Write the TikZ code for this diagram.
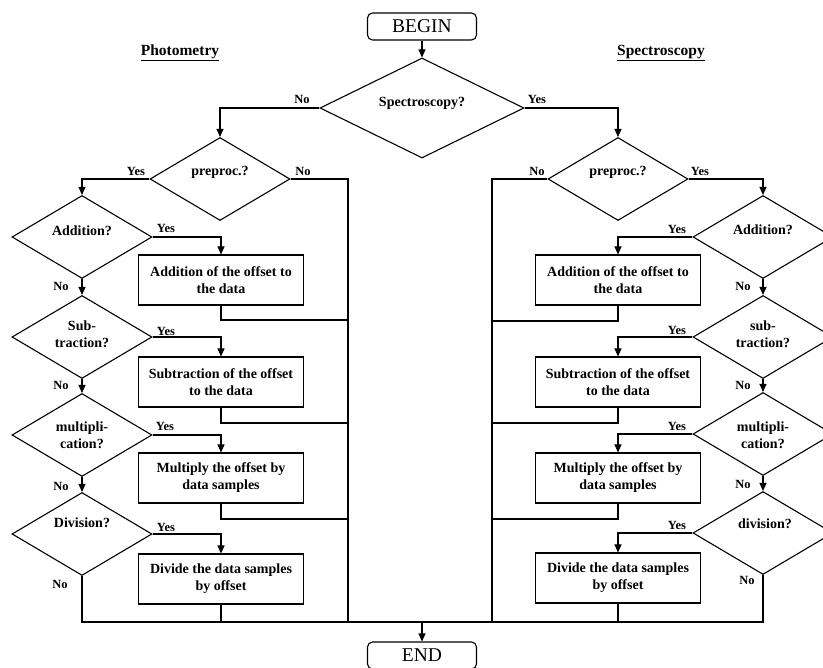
\documentclass[tikz,border=0pt]{standalone}
\usepackage{fontspec}
\setmainfont{Liberation Serif}
\usetikzlibrary{shapes.geometric,arrows.meta}

\begin{document}
\begin{tikzpicture}[x=1pt,y=-1pt,line width=1.1pt,
  arr/.style={-{Triangle[length=8pt,width=7pt]}},
  dia/.style={diamond, draw, inner sep=0pt, minimum width=140pt, minimum height=83pt},
  bigdia/.style={dia, minimum width=204pt, minimum height=100pt},
  proc/.style={rectangle, draw, minimum width=165pt, minimum height=50pt, inner sep=0pt,
    align=center, font=\fontsize{14}{17}\selectfont\bfseries},
  term/.style={rectangle, rounded corners=5pt, draw, minimum width=109pt, minimum height=27pt,
    inner sep=0pt, font=\fontsize{19.5}{22}\selectfont},
  dtxt/.style={align=center, inner sep=0pt, font=\fontsize{14}{17}\selectfont\bfseries},
  yn/.style={inner sep=0pt, font=\fontsize{12.5}{14}\selectfont\bfseries},
  ttl/.style={inner sep=0pt, font=\fontsize{15.5}{18}\selectfont\bfseries},
]
\fill[white] (0,0) rectangle (823,668);
\clip (0,0) rectangle (823,668);

% titles
\node[ttl] (tphot) at (180,53) {\underline{Photometry}};
\node[ttl] (tspec) at (661,53) {\underline{Spectroscopy}};

% start / end
\node[term] (begin) at (422,26.5) {BEGIN};
\node[term] (end) at (422,655.5) {END};

% main decision
\node[bigdia] (spec) at (422,108) {};
\node[dtxt] (spect) at (422,103) {Spectroscopy?};

% preprocessing decisions
\node[dia] (lpre) at (220,179) {};
\node[dtxt] (lpret) at (220,172) {preproc.?};
\node[dia] (rpre) at (618,179) {};
\node[dtxt] (rpret) at (618,172) {preproc.?};

% photometry column
\node[dia] (ladd) at (82,237) {};
\node[dtxt] (laddt) at (82,231) {Addition?};
\node[dia] (lsub) at (82,337) {};
\node[dtxt] (lsubt) at (82,334) {Sub-\\traction?};
\node[dia] (lmul) at (82,435) {};
\node[dtxt] (lmult) at (82,435) {multipli-\\cation?};
\node[dia] (ldiv) at (82,534) {};
\node[dtxt] (ldivt) at (82,523) {Division?};

\node[proc] (laddb) at (221,280) {Addition of the offset to\\the data};
\node[proc] (lsubb) at (221,382) {Subtraction of the offset\\to the data};
\node[proc] (lmulb) at (221,478) {Multiply the offset by\\data samples};
\node[proc] (ldivb) at (221,579) {Divide the data samples\\by offset};

% spectroscopy column
\node[dia] (radd) at (763,237) {};
\node[dtxt] (raddt) at (763,230) {Addition?};
\node[dia] (rsub) at (763,337) {};
\node[dtxt] (rsubt) at (763,334) {sub-\\traction?};
\node[dia] (rmul) at (763,434) {};
\node[dtxt] (rmult) at (763,435) {multipli-\\cation?};
\node[dia] (rdiv) at (763,533) {};
\node[dtxt] (rdivt) at (765,524) {division?};

\node[proc] (raddb) at (618,280) {Addition of the offset to\\the data};
\node[proc] (rsubb) at (618,382) {Subtraction of the offset\\to the data};
\node[proc] (rmulb) at (618,478) {Multiply the offset by\\data samples};
\node[proc] (rdivb) at (618,578) {Divide the data samples\\by offset};

% collecting lines
\coordinate (lbus) at (348,622);
\coordinate (rbus) at (492,622);
\coordinate (lj1) at (348,320);
\coordinate (lj2) at (348,423);
\coordinate (lj3) at (348,519);
\coordinate (rj1) at (492,321);
\coordinate (rj2) at (492,423);
\coordinate (rj3) at (492,519);

% connectors
\draw[arr] (begin.south) -- (spec.north);
\draw[arr] (spec.west) -| (lpre.north);
\draw[arr] (spec.east) -| (rpre.north);
\draw[arr] (lpre.west) -| (ladd.north);
\draw[arr] (rpre.east) -| (radd.north);
\draw (lpre.east) -| (lbus);
\draw (rpre.west) -| (rbus);

\draw[arr] (ladd.south) -- (lsub.north);
\draw[arr] (lsub.south) -- (lmul.north);
\draw[arr] (lmul.south) -- (ldiv.north);
\draw[arr] (radd.south) -- (rsub.north);
\draw[arr] (rsub.south) -- (rmul.north);
\draw[arr] (rmul.south) -- (rdiv.north);

\draw[arr] (ladd.east) -| (laddb.north);
\draw[arr] (lsub.east) -| (lsubb.north);
\draw[arr] (lmul.east) -| (lmulb.north);
\draw[arr] (ldiv.east) -| (ldivb.north);
\draw[arr] (radd.west) -| (raddb.north);
\draw[arr] (rsub.west) -| (rsubb.north);
\draw[arr] (rmul.west) -| (rmulb.north);
\draw[arr] (rdiv.west) -| (rdivb.north);

\draw (laddb.south) |- (lj1);
\draw (lsubb.south) |- (lj2);
\draw (lmulb.south) |- (lj3);
\draw (ldivb.south) -- (ldivb.south |- lbus);
\draw (raddb.south) |- (rj1);
\draw (rsubb.south) |- (rj2);
\draw (rmulb.south) |- (rj3);
\draw (rdivb.south) -- (rdivb.south |- rbus);

\draw (ldiv.south) |- (rdiv.south |- lbus) -- (rdiv.south);
\draw[arr] (end.north |- lbus) -- (end.north);

% branch labels
\node[yn] (n0) at (302,99) {No};
\node[yn] (y0) at (537,99) {Yes};
\node[yn] (y1) at (136,171) {Yes};
\node[yn] (n1) at (303,171) {No};
\node[yn] (n2) at (537,171) {No};
\node[yn] (y2) at (700,171) {Yes};

\node[yn] (ly1) at (166,228) {Yes};
\node[yn] (ly2) at (166,331) {Yes};
\node[yn] (ly3) at (165,426) {Yes};
\node[yn] (ly4) at (166,527) {Yes};
\node[yn] (ln1) at (61,286) {No};
\node[yn] (ln2) at (61,385) {No};
\node[yn] (ln3) at (61,486) {No};
\node[yn] (ln4) at (60,584) {No};

\node[yn] (ry1) at (677,229) {Yes};
\node[yn] (ry2) at (677,330) {Yes};
\node[yn] (ry3) at (677,426) {Yes};
\node[yn] (ry4) at (677,525) {Yes};
\node[yn] (rn1) at (743,286) {No};
\node[yn] (rn2) at (743,385) {No};
\node[yn] (rn3) at (743,484) {No};
\node[yn] (rn4) at (747,580) {No};
\end{tikzpicture}
\end{document}
